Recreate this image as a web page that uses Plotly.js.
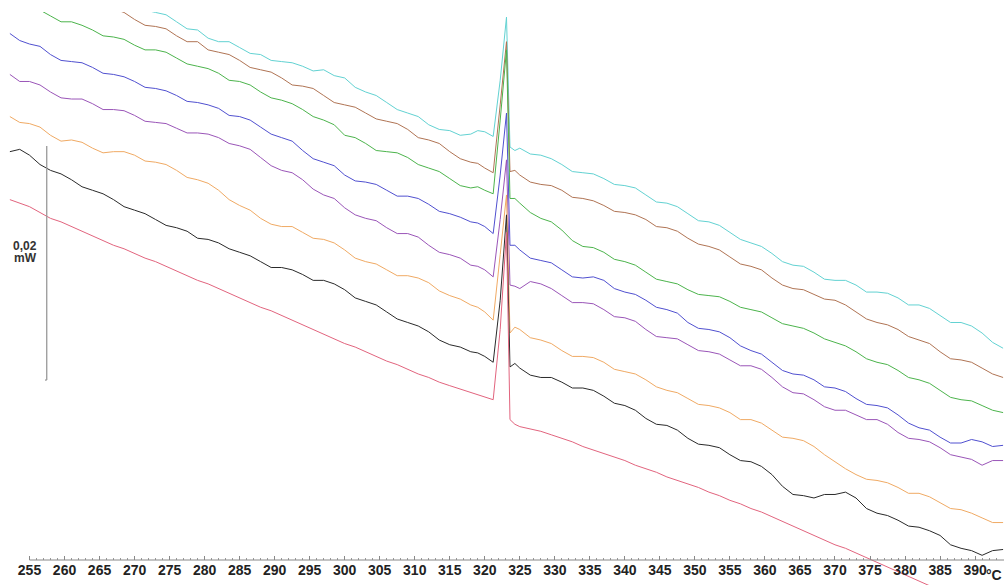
<!DOCTYPE html>
<html>
<head>
<meta charset="utf-8">
<script src="https://cdn.plot.ly/plotly-3.0.1.min.js"></script>
<style>html,body{margin:0;padding:0;background:#fff;}#chart{width:1004px;height:585px;}</style>
</head>
<body>
<div id="chart"></div>
<script>
// Temperature grid (°C)
const temperature = [252.2,253.6,255,256.5,258,259.5,261,262.5,264,265.5,267,268.5,270,271.5,273,274.5,276,277.5,279,280.5,282,283.5,285,286.5,288,289.5,291,292.5,294,295.5,297,298.5,300,301.5,303,304.5,306,307.5,309,310.5,312,313.5,315,316.5,318,319,
  320,321.2,322.2,323.1,323.6,324.3,
  325,326.5,328,329.5,331,332.5,334,335.5,337,338.5,340,341.5,343,344.5,346,347.5,349,350.5,352,353.5,355,356.5,358,359.5,361,362.5,364,365.5,367,368.5,370,371.5,373,374.5,376,377.5,379,380.5,382,383.5,385,386.5,388,389.5,391,392.5,394];

// Heat flow curves (µW, offset for display)
const cyanCurve = [null,null,null,null,null,null,null,null,null,null,null,null,
  47.7,47.0,46.8,46.6,46.0,45.4,45.3,44.6,44.3,44.3,43.8,43.3,43.2,42.7,42.6,42.5,42.2,41.8,41.9,41.4,41.2,40.4,40.0,39.7,39.1,38.5,38.2,37.9,37.2,36.8,36.7,36.3,36.4,36.7,
  36.6,36.2,41.0,46.4,35.3,35.0,
  35.2,34.7,34.6,34.3,33.8,33.2,33.1,33.0,32.6,32.1,32.0,31.8,31.2,30.6,30.5,30.2,29.6,29.0,28.9,28.6,28.0,27.4,27.1,26.8,26.2,25.5,25.2,25.1,24.6,24.0,23.9,23.9,23.5,22.9,22.9,22.8,22.4,21.8,21.8,21.5,20.9,20.3,20.3,20.0,19.4,18.6,18.1];
const brownCurve = [null,null,null,null,null,null,null,null,
  47.9,47.2,47.1,46.8,46.2,45.7,45.6,45.4,44.8,44.3,44.3,43.6,43.4,43.2,42.7,42.1,41.9,41.7,41.2,40.6,40.5,40.3,39.7,39.1,38.9,38.7,38.2,37.7,37.5,37.3,36.8,36.1,35.9,35.6,34.9,34.3,34.0,33.9,
  33.5,33.1,38.9,44.3,33.2,33.3,
  32.9,32.3,32.1,32.0,31.6,31.0,30.9,30.7,30.3,29.8,29.7,29.5,29.1,28.5,28.4,28.1,27.5,27.0,26.8,26.5,25.9,25.3,25.1,24.8,24.1,23.5,23.2,23.1,22.7,22.3,22.2,21.8,21.2,20.6,20.3,20.1,19.7,19.1,18.8,18.5,17.8,17.2,17.1,16.9,16.4,15.9,15.6];
const greenCurve = [48.1,47.6,47.3,47.0,46.5,46.0,46.0,45.7,45.3,44.8,44.7,44.5,44.0,43.6,43.6,43.4,42.9,42.4,42.2,42.0,41.6,41.0,40.9,40.6,40.0,39.5,39.3,39.0,38.5,37.9,37.6,37.2,36.3,36.1,35.6,35.0,34.9,34.8,34.4,33.8,33.5,33.2,32.6,32.0,31.8,31.9,
  31.6,31.3,37.6,43.6,30.9,30.9,
  30.5,29.7,29.2,28.9,28.2,27.3,26.8,26.7,26.3,25.7,25.5,25.2,24.6,24.0,23.8,23.6,23.1,22.7,22.6,22.5,22.1,21.6,21.4,21.2,20.7,20.2,20.0,19.8,19.4,18.9,18.6,18.3,17.8,17.2,16.9,16.7,16.2,15.6,15.4,15.1,14.5,13.9,13.7,13.6,13.2,12.8,12.6];
const blueCurve = [45.0,44.4,44.1,43.9,43.2,42.7,42.6,42.5,42.1,41.6,41.5,41.3,40.9,40.4,40.3,40.1,39.7,39.2,39.1,38.9,38.6,38.0,37.9,37.6,37.0,36.4,36.1,35.8,35.0,34.3,34.0,33.7,32.9,32.4,32.3,32.1,31.6,31.1,31.1,30.9,30.4,29.8,29.6,29.3,28.9,28.8,
  28.5,27.9,32.9,38.2,26.9,26.9,
  26.5,25.8,25.6,25.4,24.8,24.2,24.1,24.2,23.9,23.2,22.9,22.7,22.2,21.6,21.4,21.1,20.3,19.8,19.7,19.5,19.0,18.3,17.9,17.6,16.9,16.2,15.9,15.8,15.4,14.8,14.7,14.4,13.8,13.3,13.2,13.0,12.4,11.7,11.3,11.1,10.5,10.0,10.0,10.3,10.1,9.7,9.8];
const purpleCurve = [41.5,40.9,40.9,40.6,40.0,39.5,39.4,39.4,39.0,38.5,38.5,38.4,38.0,37.5,37.4,37.3,36.9,36.5,36.5,36.4,36.1,35.6,35.4,35.1,34.4,33.7,33.3,33.1,32.5,31.7,31.2,30.9,30.1,29.5,29.2,29.0,28.4,27.9,27.9,27.6,26.9,26.3,26.1,25.8,25.2,25.1,
  24.8,24.2,29.1,34.2,23.5,23.4,
  23.2,23.8,23.6,23.2,22.6,22.0,22.0,21.9,21.4,20.8,20.7,20.4,19.7,19.1,19.0,18.9,18.4,17.9,17.8,17.6,17.1,16.6,16.6,16.3,15.6,14.8,14.3,14.2,13.7,13.1,12.8,12.8,12.4,12.0,12.0,11.6,10.9,10.4,10.3,10.1,9.6,9.0,8.8,8.6,8.1,8.5,8.5];
const orangeCurve = [37.9,37.4,37.3,37.0,36.3,35.8,35.9,35.7,35.2,34.8,34.9,34.9,34.6,34.1,34.0,33.8,33.3,32.7,32.5,32.2,31.6,30.8,30.3,29.9,29.2,28.7,28.5,28.5,28.0,27.5,27.4,27.1,26.5,25.8,25.5,25.3,24.8,24.3,24.3,24.1,23.7,23.0,22.6,22.3,21.8,21.6,
  21.2,20.5,26.1,31.2,19.4,19.9,
  19.7,19.0,18.8,18.5,17.9,17.4,17.4,17.3,16.9,16.3,16.1,15.9,15.4,14.8,14.5,14.3,13.8,13.3,13.2,13.0,12.6,12.0,12.0,11.7,11.1,10.5,10.4,10.2,9.7,9.0,8.4,7.8,7.3,6.9,6.8,6.6,6.2,5.7,5.7,5.4,4.9,4.4,4.3,4.0,3.6,3.2,3.2];
const blackCurve = [34.9,35.1,34.6,33.8,33.3,33.0,32.5,31.9,31.6,31.3,30.8,30.2,29.9,29.6,29.1,28.6,28.4,28.1,27.5,27.4,27.1,26.6,26.3,26.0,25.5,25.0,25.0,24.8,24.4,23.9,23.9,23.6,23.1,22.4,22.1,21.8,21.2,20.6,20.3,20.0,19.5,18.8,18.4,18.2,17.8,17.7,
  17.4,16.9,22.2,29.5,16.5,16.8,
  16.4,15.8,15.6,15.6,15.2,14.7,14.7,14.5,14.0,13.4,13.2,12.8,12.1,11.6,11.5,11.1,10.4,9.9,9.8,9.6,9.0,8.5,8.4,8.0,7.3,6.3,5.6,5.5,5.3,5.6,5.6,5.8,5.3,4.4,4.0,3.8,3.4,2.9,2.8,2.5,2.1,1.3,1.0,0.8,0.4,0.8,0.9];
const pinkCurve = [30.8,30.5,30.2,29.7,29.2,28.9,28.5,28.1,27.7,27.3,26.9,26.6,26.2,25.8,25.5,25.1,24.7,24.3,23.9,23.6,23.2,22.8,22.4,22.0,21.6,21.3,20.9,20.5,20.1,19.7,19.3,18.9,18.5,18.2,17.8,17.4,17.0,16.7,16.3,15.9,15.6,15.2,14.9,14.6,14.3,14.1,
  13.9,13.7,19.7,28.0,12.0,11.6,
  11.4,11.2,11.0,10.7,10.4,10.1,9.7,9.4,9.1,8.8,8.5,8.1,7.8,7.5,7.1,6.8,6.5,6.2,5.8,5.5,5.1,4.8,4.4,4.1,3.7,3.3,2.9,2.5,2.1,1.7,1.3,1.0,0.6,0.2,-0.2,-0.6,-1.0,-1.4,-1.8,-2.2,-2.6,-3.0,-3.4,-3.8,-4.2,-4.6,-5.0];

const tickValues = [255,260,265,270,275,280,285,290,295,300,305,310,315,320,325,330,335,340,345,350,355,360,365,370,375,380,385,390];
const tickLabels = ['255','260','265','270','275','280','285','290','295','300','305','310','315','320','325','330','335','340','345','350','355','360','365','370','375','380','385','390'];
const scaleBar = {x: 257.46, from: 15.38, to: 35.38, label1: '0,02', label2: 'mW'};

const series = [
  {y: cyanCurve, color: '#62d2d2'},
  {y: brownCurve, color: '#b07454'},
  {y: greenCurve, color: '#4cb44c'},
  {y: blueCurve, color: '#5050d0'},
  {y: purpleCurve, color: '#9a55b8'},
  {y: orangeCurve, color: '#f0aa64'},
  {y: blackCurve, color: '#2a2a2a'},
  {y: pinkCurve, color: '#e2647e'}
];

const traces = series.map(s => ({
  x: temperature, y: s.y, type: 'scatter', mode: 'lines',
  line: {color: s.color, width: 1}, connectgaps: false, hoverinfo: 'skip', showlegend: false
}));

const minorTicks = [];
for (let t = 255; t <= 394; t++) minorTicks.push(t);

const font = 'Liberation Sans, Arial, sans-serif';
const layout = {
  width: 1004, height: 585,
  margin: {l: 0, r: 0, t: 12, b: 0, pad: 0},
  paper_bgcolor: '#fff', plot_bgcolor: '#fff',
  showlegend: false,
  xaxis: {
    range: [250.788, 394.13], anchor: 'free', position: 0.04363,
    showgrid: false, zeroline: false, showline: false,
    tickmode: 'array', tickvals: tickValues, ticktext: tickLabels,
    ticks: 'inside', ticklen: 4, tickcolor: '#888', tickwidth: 1,
    tickfont: {family: font, size: 14, color: '#222', weight: 700},
    minor: {tickmode: 'array', tickvals: minorTicks, ticks: 'inside', ticklen: 2, tickcolor: '#999'}
  },
  yaxis: {range: [-2.137, 46.838], visible: false, showgrid: false, zeroline: false},
  shapes: [
    {type: 'line', xref: 'x', yref: 'y', x0: 255, x1: 394.13, y0: 0, y1: 0, line: {color: '#888', width: 1}},
    {type: 'line', xref: 'x', yref: 'y', x0: scaleBar.x, x1: scaleBar.x, y0: scaleBar.from, y1: scaleBar.to, line: {color: '#999', width: 1.3}},
    {type: 'line', xref: 'x', yref: 'y', x0: scaleBar.x - 0.25, x1: scaleBar.x, y0: scaleBar.from, y1: scaleBar.from, line: {color: '#999', width: 1.3}}
  ],
  annotations: [
    {xref: 'x', yref: 'y', x: 254.36, y: 26.84, text: scaleBar.label1, showarrow: false, xanchor: 'center', yanchor: 'middle',
     font: {family: font, size: 12, color: '#333', weight: 700}},
    {xref: 'x', yref: 'y', x: 254.36, y: 25.81, text: scaleBar.label2, showarrow: false, xanchor: 'center', yanchor: 'middle',
     font: {family: font, size: 12, color: '#333', weight: 700}},
    {xref: 'paper', yref: 'paper', x: 1.0, y: 0.0175, text: '°C', showarrow: false, xanchor: 'right', yanchor: 'middle',
     font: {family: font, size: 14, color: '#222', weight: 700}}
  ]
};

Plotly.newPlot('chart', traces, layout, {staticPlot: true, displayModeBar: false});
</script>
</body>
</html>
